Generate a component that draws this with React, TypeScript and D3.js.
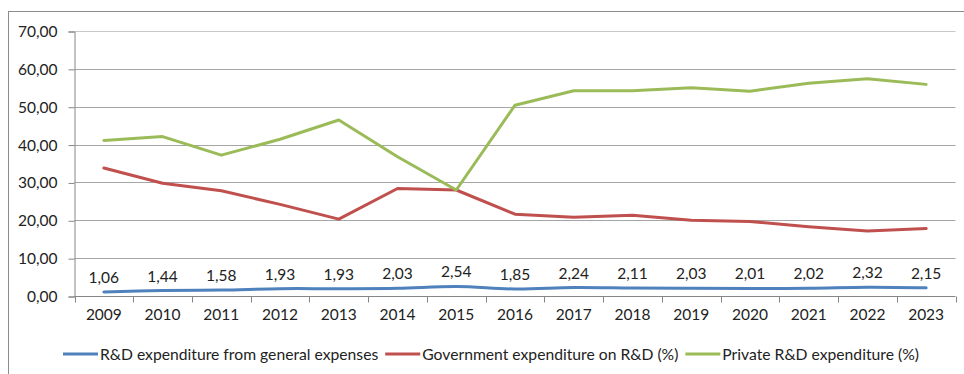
import React, { useEffect, useRef } from "react";
import * as d3 from "d3";

const years = ["2009","2010","2011","2012","2013","2014","2015","2016","2017","2018","2019","2020","2021","2022","2023"];
const rdGeneral = [1.06, 1.44, 1.58, 1.93, 1.93, 2.03, 2.54, 1.85, 2.24, 2.11, 2.03, 2.01, 2.02, 2.32, 2.15];
const govRd = [33.8, 29.8, 27.8, 24.2, 20.3, 28.4, 28.0, 21.6, 20.8, 21.3, 20.0, 19.7, 18.3, 17.2, 17.8];
const privateRd = [41.1, 42.1, 37.2, 41.4, 46.5, 36.8, 28.0, 50.4, 54.2, 54.2, 55.0, 54.1, 56.2, 57.4, 55.9];
const yTicks = [0, 10, 20, 30, 40, 50, 60, 70];
const seriesNames = ["R&D expenditure from general expenses", "Government expenditure on R&D (%)", "Private R&D expenditure (%)"];
const seriesColors = ["#4f81bd", "#c0504d", "#9bbb59"];

const W = 964, H = 374;
const FONT = "Lato, 'Open Sans', sans-serif";

export default function App() {
  const ref = useRef<SVGSVGElement>(null);
  useEffect(() => {
    const svg = d3.select(ref.current);
    svg.selectAll("*").remove();
    const left = 74.5, right = 955.5, top = 31, bottom = 296;
    const x = d3.scaleBand<string>().domain(years).range([left, right]);
    const y = d3.scaleLinear().domain([0, 70]).range([bottom, top]);

    // outer border
    svg.append("rect").attr("x", 8.5).attr("y", 11.5).attr("width", W + 10).attr("height", H + 10)
      .attr("fill", "none").attr("stroke", "#8c8c8c").attr("stroke-width", 1);

    // gridlines
    const g = svg.append("g");
    g.selectAll("line.grid").data(yTicks.filter(t => t > 0)).enter().append("line")
      .attr("x1", left).attr("x2", right)
      .attr("y1", d => Math.round(y(d)) + 0.5).attr("y2", d => Math.round(y(d)) + 0.5)
      .attr("stroke", d => d === 70 ? "#c8c8c8" : "#a6a6a6").attr("stroke-width", 1);

    // y axis
    const yAxis = d3.axisLeft(y).tickValues(yTicks).tickSize(6).tickPadding(11)
      .tickFormat(d => d3.format(".2f")(d as number).replace(".", ","));
    const ya = svg.append("g").attr("transform", `translate(${left},0.5)`).call(yAxis);
    ya.select(".domain").attr("stroke", "#868686");
    ya.selectAll(".tick line").attr("stroke", "#868686");
    ya.selectAll(".tick text").attr("font-family", FONT).attr("font-size", 15.5).attr("fill", "#222");

    // x axis
    const xa = svg.append("g").attr("transform", `translate(0,${bottom + 0.5})`);
    xa.append("line").attr("x1", left).attr("x2", right).attr("stroke", "#868686");
    const edges = years.map(yr => x(yr)!).concat([right]);
    xa.selectAll("line.tk").data(edges).enter().append("line")
      .attr("x1", d => Math.round(d) + 0.5).attr("x2", d => Math.round(d) + 0.5)
      .attr("y1", 0).attr("y2", 6).attr("stroke", "#868686");
    xa.selectAll("text").data(years).enter().append("text")
      .attr("x", d => x(d)! + x.bandwidth() / 2).attr("y", 23)
      .attr("text-anchor", "middle").attr("font-family", FONT).attr("font-size", 15.5).attr("fill", "#222")
      .text(d => d);

    const cx = (i: number) => x(years[i])! + x.bandwidth() / 2;
    const allSeries = [rdGeneral, govRd, privateRd];
    allSeries.forEach((vals, si) => {
      const line = d3.line<number>().x((_, i) => cx(i)).y(d => y(d))
        .curve(si === 0 ? d3.curveCatmullRom.alpha(0) : d3.curveLinear);
      svg.append("path").datum(vals).attr("d", line).attr("fill", "none")
        .attr("stroke", seriesColors[si]).attr("stroke-width", 3).attr("stroke-linejoin", "round").attr("stroke-linecap", "round");
    });

    // data labels for blue
    svg.selectAll("text.lbl").data(rdGeneral).enter().append("text")
      .attr("x", (_, i) => cx(i)).attr("y", d => y(d) - 9)
      .attr("text-anchor", "middle").attr("font-family", FONT).attr("font-size", 15.5).attr("fill", "#222")
      .text(d => d3.format(".2f")(d).replace(".", ","));

    // legend
    const lg = svg.append("g").attr("transform", "translate(0,354)");
    let lx = 63;
    seriesNames.forEach((name, i) => {
      lg.append("line").attr("x1", lx).attr("x2", lx + 35).attr("y1", 0).attr("y2", 0)
        .attr("stroke", seriesColors[i]).attr("stroke-width", 3);
      const t = lg.append("text").attr("x", lx + 37).attr("y", 5.5).attr("font-family", FONT)
        .attr("font-size", 15.7).attr("fill", "#222").text(name);
      const w = (t.node() as SVGTextElement).getComputedTextLength();
      lx = lx + 37 + w + 7;
    });
  }, []);
  return (
    <svg ref={ref} width={W} height={H} style={{ position: "absolute", left: 0, top: 0, background: "#fff" }} />
  );
}
